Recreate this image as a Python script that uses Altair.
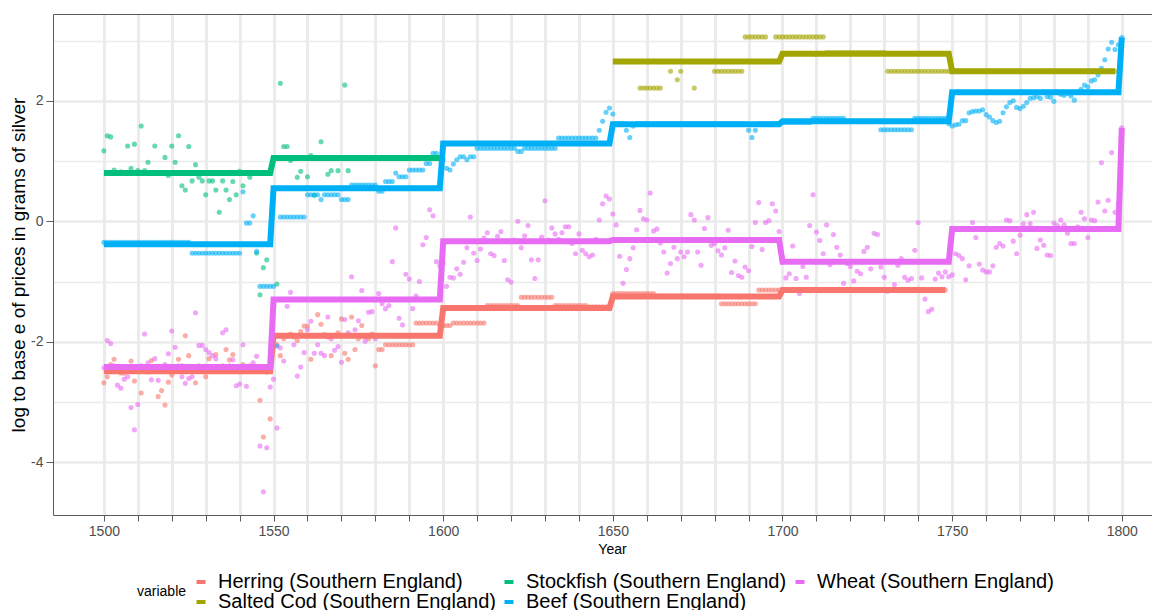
import altair as alt
import pandas as pd

# ---------------- data ----------------
SERIES = [
    "Herring (Southern England)",
    "Salted Cod (Southern England)",
    "Stockfish (Southern England)",
    "Beef (Southern England)",
    "Wheat (Southern England)",
]
SERIES_COLORS = ["#F8766D", "#A3A500", "#00BF7D", "#00B0F6", "#E76BF3"]

X_TICKS = list(range(1500, 1801, 10))
Y_TICKS = [-4, -3, -2, -1, 0, 1, 2, 3]

# yearly points (None = no observation)
herring_start = 1500
herring_vals = [
    -2.68, -2.58, -2.38, -2.29, -2.45, -2.52, -2.52, -2.46, -2.32, -2.65,
    -2.48, -2.85, -2.44, -2.50, -2.31, -2.47, -2.91, -2.81, -3.05, -2.67,
    -2.55, -2.44, -2.29, -2.40, -1.90, -2.23, -2.47, -2.68, -2.40, -2.45,
    -2.58, -2.28, -2.42, -2.21, -2.46, -2.40, -2.13, -2.30, -2.21, -2.44,
    -2.47, -2.38, -2.45, -2.40, -2.43, -2.46, -2.97, -3.58, -2.50, -3.28,
    -1.95, -2.05, -2.23, -1.95, -1.90, -1.87, -1.92, -1.98, -1.83, -1.74,
    -1.74, -2.29, -1.90, -1.55, -1.71, -1.88, -1.92, -2.23, -1.90, -1.85,
    -1.62, -2.19, -2.29, -1.59, -2.13, -1.95, -1.73, -1.91, -1.95, -1.87,
    -2.40, -2.13, -2.13, -2.05, -2.05, -2.05, -2.05, -2.05, -2.05, -2.05,
    -2.05, -2.05, -1.69, -1.69, -1.69, -1.69, -1.69, -1.69, -1.69, -1.73,
    -1.73, -1.73, -1.73, -1.69, -1.69, -1.69, -1.69, -1.69, -1.69, -1.69,
    -1.69, -1.69, -1.69, -1.40, -1.40, -1.40, -1.40, -1.40, -1.40, -1.40,
    -1.40, -1.40, -1.40, -1.26, -1.26, -1.26, -1.26, -1.26, -1.26, -1.26,
    -1.26, -1.26, -1.26, -1.40, -1.40, -1.40, -1.40, -1.40, -1.40, -1.40,
    -1.40, -1.40, -1.40, -1.42, -1.42, -1.42, -1.42, -1.42, -1.42, -1.42,
    -1.20, -1.20, -1.20, -1.20, -1.20, -1.20, -1.20, -1.20, -1.20, -1.20,
    -1.20, -1.20, -1.20, -1.24, -1.24, -1.24, -1.24, -1.24, -1.24, -1.24,
    -1.24, -1.24, -1.24, -1.24, -1.24, -1.24, -1.24, -1.24, -1.24, -1.24,
    -1.24, -1.24, -1.37, -1.37, -1.37, -1.37, -1.37, -1.37, -1.37, -1.37,
    -1.37, -1.37, -1.37, -1.14, -1.14, -1.14, -1.14, -1.14, -1.14, -1.14,
    -1.14, -1.14, -1.14, -1.14, -1.14, -1.14, -1.14, -1.14, -1.14, -1.14,
    -1.14, -1.14, -1.14, -1.14, -1.14, -1.14, -1.14, -1.14, -1.14, -1.14,
    -1.14, -1.14, -1.14, -1.14, -1.14, -1.14, -1.14, -1.14, -1.14, -1.14,
    -1.14, -1.14, -1.14, -1.14, -1.14, -1.14, -1.14, -1.14, -1.14, -1.14,
    -1.14, -1.14, -1.14, -1.14, -1.14, -1.14, -1.14, -1.14, -1.14,
]

cod_start = 1650
cod_vals = [
    None, None, None, None, None, None, None, None, 2.21, 2.21,
    2.21, 2.21, 2.21, 2.21, 2.21, None, None, 2.49, None, 2.35,
    2.49, None, None, None, 2.21, None, None, None, None, None,
    2.49, 2.49, 2.49, 2.49, 2.49, 2.49, 2.49, 2.49, 2.49, 3.06,
    3.06, 3.06, 3.06, 3.06, 3.06, 3.06, None, None, 3.06, 3.06,
    3.06, 3.06, 3.06, 3.06, 3.06, 3.06, 3.06, 3.06, 3.06, 3.06,
    3.06, 3.06, 3.06, 2.80, 2.80, 2.80, 2.80, 2.80, 2.80, 2.80,
    2.80, 2.80, 2.80, 2.80, 2.80, 2.80, 2.80, 2.80, 2.80, 2.80,
    2.80, 2.49, 2.49, 2.49, 2.49, 2.49, 2.49, 2.49, 2.49, 2.49,
    2.49, 2.49, 2.49, 2.49, 2.49, 2.49, 2.49, 2.49, 2.49, 2.49,
    2.49, 2.49, 2.49, 2.49, 2.49, 2.49, 2.49, 2.49, 2.49, 2.49,
    2.49, 2.49, 2.49, 2.49, 2.49, 2.49, 2.49, 2.49, 2.49, 2.49,
    2.49, 2.49, 2.49, 2.49, 2.49, 2.49, 2.49, 2.49, 2.49, 2.49,
    2.49, 2.49, 2.49, 2.49, 2.49, 2.49, 2.49, 2.49, 2.49, 2.49,
    2.49, 2.49, 2.49, 2.49, 2.49, 2.49, 2.49, 2.49, 2.49,
]

stockfish_start = 1500
stockfish_vals = [
    1.17, 1.42, 1.40, 0.85, None, 0.82, None, 1.25, 0.88, 1.28,
    0.84, 1.58, 0.84, 0.98, None, 1.25, 0.80, None, 1.06, 0.76,
    1.25, 0.98, 1.42, 0.59, 0.52, 1.24, 0.67, 0.94, 0.73, 0.67,
    0.44, 0.67, 0.67, 0.52, 0.15, 0.67, 0.52, 0.36, 0.66, 0.44,
    0.83, 0.59, None, 0.73, None, -0.53, -1.22, -0.77, -0.64, None,
    None, -1.04, 2.29, 1.24, 1.24, 1.01, None, 0.73, 0.83, None,
    0.74, 1.09, 0.43, None, 1.32, None, 0.78, 0.84, None, 0.84,
    None, 2.26, 0.84,
]

beef_start = 1500
beef_vals = [
    -0.35, -0.35, -0.35, -0.35, -0.35, -0.35, -0.35, -0.35, -0.35, -0.35,
    -0.35, -0.35, -0.35, -0.35, -0.35, -0.35, -0.35, -0.35, -0.35, -0.35,
    -0.35, -0.35, -0.35, -0.35, -0.35, -0.35, -0.53, -0.53, -0.53, -0.53,
    -0.53, -0.53, -0.53, -0.53, -0.53, -0.53, -0.53, -0.53, -0.53, -0.53,
    -0.53, 0.49, -0.03, -0.03, 0.09, -0.50, -1.08, -1.08, -1.08, -1.08,
    -1.08, -2.07, 0.07, 0.07, 0.07, 0.07, 0.07, 0.07, 0.07, 0.07,
    0.44, 0.44, 0.44, 0.44, 0.36, 0.44, 0.44, 0.44, 0.44, 0.44,
    0.36, 0.36, 0.36, 0.60, 0.60, 0.60, 0.60, 0.60, 0.60, 0.60,
    0.60, 0.50, 0.50, 0.66, 0.66, 0.66, 0.80, 0.74, 0.74, 0.74,
    0.85, 0.85, 0.85, 0.85, 0.85, 0.96, 0.96, 1.13, 1.13, 1.05,
    1.02, 0.88, 0.85, 0.95, 1.02, 1.07, 1.07, 1.02, 1.07, 1.07,
    1.21, 1.21, 1.21, 1.21, 1.21, 1.21, 1.21, 1.21, 1.21, 1.21,
    1.21, 1.21, 1.16, 1.16, 1.21, 1.21, 1.21, 1.21, 1.21, 1.21,
    1.21, 1.21, 1.21, 1.21, 1.38, 1.38, 1.38, 1.38, 1.38, 1.38,
    1.38, 1.38, 1.38, 1.38, 1.38, 1.38, 1.51, 1.66, 1.81, 1.88,
    1.78, 1.62, 1.62, 1.62, 1.51, 1.39, 1.58, 1.62, 1.62, 1.62,
    1.62, 1.62, 1.62, 1.62, 1.62, 1.62, 1.62, 1.62, 1.62, 1.62,
    1.62, 1.62, 1.62, 1.62, 1.62, 1.62, 1.62, 1.62, 1.62, 1.62,
    1.62, 1.62, 1.62, 1.62, 1.62, 1.62, 1.62, 1.62, 1.62, 1.62,
    1.51, 1.39, 1.51, 1.62, 1.62, 1.62, 1.62, 1.62, 1.62, 1.62,
    1.64, 1.64, 1.64, 1.64, 1.64, 1.64, 1.64, 1.64, 1.64, 1.71,
    1.71, 1.71, 1.71, 1.71, 1.71, 1.71, 1.71, 1.71, 1.71, 1.66,
    1.66, 1.66, 1.66, 1.66, 1.66, 1.66, 1.66, 1.66, 1.66, 1.52,
    1.52, 1.52, 1.52, 1.52, 1.52, 1.52, 1.52, 1.52, 1.52, 1.71,
    1.71, 1.71, 1.71, 1.71, 1.71, 1.71, 1.71, 1.71, 1.71, 1.62,
    1.58, 1.60, 1.61, 1.67, 1.67, 1.80, 1.82, 1.83, 1.83, 1.85,
    1.77, 1.73, 1.67, 1.64, 1.66, 1.80, 1.90, 1.97, 2.00, 1.89,
    1.87, 1.91, 1.97, 2.04, 2.05, 2.07, 2.04, 2.15, 2.07, 2.06,
    1.99, 2.15, 2.11, 2.09, 2.12, 2.08, 2.01, 2.15, 2.19, 2.26,
    2.23, 2.33, 2.35, 2.43, 2.54, 2.68, 2.86, 2.97, 2.85, 2.93,
    3.05,
]

wheat_start = 1500
wheat_vals = [
    -2.43, -1.98, -2.03, -2.40, -2.72, -2.77, -2.62, -2.58, -3.09, -3.46,
    -3.04, -2.40, -1.87, -2.35, -2.63, -2.28, -2.64, -2.42, -2.38, -2.20,
    -1.82, -2.09, -2.40, -2.58, -2.69, -2.61, -2.58, -1.52, -2.06, -2.06,
    -2.13, -2.18, -2.23, -2.28, -2.45, -1.85, -1.80, -2.40, -2.30, -2.73,
    -2.70, -2.05, -2.74, -2.45, -2.35, -2.24, -3.73, -4.49, -3.76, -2.75,
    -2.62, -3.43, -2.10, -2.32, -1.41, -1.18, -2.05, -2.57, -2.42, -2.18,
    -1.80, -1.66, -2.19, -2.05, -2.19, -2.23, -1.59, -1.95, -2.14, -2.08,
    -2.34, -1.63, -1.85, -0.92, -1.80, -1.65, -1.15, -1.99, -1.51, -1.50,
    -1.95, -1.20, -1.37, -1.45, -1.40, -0.67, -0.11, -1.61, -1.72, -0.88,
    -0.96, -1.45, -1.24, -1.00, -0.39, -0.27, 0.19, 0.09, -0.67, -0.74,
    -0.70, -1.08, -0.93, -0.94, -0.79, -0.88, -0.68, -0.44, 0.07, -0.53,
    -0.65, -0.46, -0.28, -0.19, -0.54, -0.57, -0.25, -0.17, -0.65, -0.97,
    -1.01, -0.31, 0.00, -0.44, -0.24, -0.07, -0.64, -0.95, -0.64, -0.26,
    0.34, -0.31, -0.11, -0.21, -0.30, -0.19, -0.09, -0.09, -0.37, -0.54,
    -0.21, -0.48, -0.54, -0.59, -0.56, -0.30, 0.02, 0.29, 0.42, 0.37,
    0.12, -0.06, -0.58, -1.03, -0.80, -0.62, -0.44, -0.14, 0.18, 0.04,
    0.02, 0.47, -0.16, -0.13, -0.36, -0.51, -0.86, -0.70, -0.43, -0.62,
    -0.51, -0.59, -0.51, 0.11, 0.02, -0.51, -0.73, -0.12, 0.06, -0.40,
    -0.37, -0.49, -0.56, -0.44, -0.15, -0.85, -0.66, -0.90, -0.93, -0.76,
    -0.82, -0.42, -0.02, 0.31, -0.47, -0.02, 0.01, 0.29, 0.17, -0.17,
    -0.60, -0.94, -0.87, -0.41, -0.95, -1.20, -0.75, -0.93, -0.07, 0.44,
    -0.18, -0.32, -0.54, -0.06, -0.72, -0.22, -0.43, -0.56, -1.03, -0.70,
    -0.75, -0.99, -0.83, -0.87, -0.50, -0.43, -0.79, -0.20, -0.22, -0.76,
    -0.93, -1.16, -1.14, -1.05, -0.73, -0.62, -0.93, -0.98, -0.95, -0.48,
    -0.02, -0.94, -1.29, -1.50, -1.46, -0.96, -0.86, -0.92, -0.84, -0.92,
    -0.89, -0.54, -0.57, -0.62, -0.97, -0.74, -0.02, -0.27, -0.71, -0.81,
    -0.84, -0.84, -0.74, -0.43, -0.37, -0.41, 0.02, 0.01, -0.33, -0.54,
    -0.23, -0.04, 0.11, -0.04, 0.15, -0.45, -0.31, -0.40, -0.56, -0.57,
    -0.03, -0.07, 0.02, -0.06, -0.20, -0.37, -0.37, -0.09, 0.15, 0.04,
    -0.27, 0.02, 0.01, 0.32, 0.97, 0.17, 0.35, 1.14, 0.15, 0.30,
    1.55,
]

# period means (step lines): (first year, last year) and level
herring_periods = [(1500, 1549), (1550, 1599), (1600, 1649), (1650, 1699), (1700, 1748)]
herring_levels = [-2.49, -1.90, -1.44, -1.25, -1.14]
cod_periods = [(1650, 1699), (1700, 1749), (1750, 1798)]
cod_levels = [2.65, 2.78, 2.49]
stockfish_periods = [(1500, 1549), (1550, 1599)]
stockfish_levels = [0.80, 1.05]
beef_periods = [(1500, 1549), (1550, 1599), (1600, 1649), (1650, 1699), (1700, 1749), (1750, 1799), (1800, 1800)]
beef_levels = [-0.38, 0.55, 1.29, 1.61, 1.66, 2.14, 3.05]
wheat_periods = [(1500, 1549), (1550, 1599), (1600, 1649), (1650, 1699), (1700, 1749), (1750, 1799), (1800, 1800)]
wheat_levels = [-2.42, -1.30, -0.33, -0.31, -0.67, -0.13, 1.55]

# ---------------- tables ----------------
def point_rows(name, start, vals):
    return [{"Year": start + i, "value": v, "variable": name}
            for i, v in enumerate(vals) if v is not None]


def step_rows(name, periods, levels):
    rows = []
    for (a, b), m in zip(periods, levels):
        rows.append({"Year": a, "value": m, "variable": name})
        if b != a:
            rows.append({"Year": b, "value": m, "variable": name})
    return rows


points = pd.DataFrame(
    point_rows(SERIES[0], herring_start, herring_vals)
    + point_rows(SERIES[1], cod_start, cod_vals)
    + point_rows(SERIES[2], stockfish_start, stockfish_vals)
    + point_rows(SERIES[3], beef_start, beef_vals)
    + point_rows(SERIES[4], wheat_start, wheat_vals)
)
steps = pd.DataFrame(
    step_rows(SERIES[0], herring_periods, herring_levels)
    + step_rows(SERIES[1], cod_periods, cod_levels)
    + step_rows(SERIES[2], stockfish_periods, stockfish_levels)
    + step_rows(SERIES[3], beef_periods, beef_levels)
    + step_rows(SERIES[4], wheat_periods, wheat_levels)
)

# ---------------- chart ----------------
FONT = "Liberation Sans"
PLOT_W, PLOT_H = 1099, 501
x_scale = alt.Scale(domain=[1485, 1485 + PLOT_W / 3.393], nice=False, zero=False)
y_scale = alt.Scale(domain=[-4.875, 3.44], nice=False, zero=False)
color_scale = alt.Scale(domain=SERIES, range=SERIES_COLORS)

AX_DARK = "#5a5a5a"
GRID = "#EBEBEB"

y_enc = alt.Y(
    "value:Q",
    scale=y_scale,
    axis=alt.Axis(
        values=Y_TICKS,
        labelExpr="datum.value % 2 === 0 ? toString(datum.value) : ''",
        title="log to base e of prices in grams of silver",
        titleFontSize=19,
        titleFontWeight="normal",
        titleColor="black",
        titleX=-25,
        titleY=PLOT_H / 2,
        titleBaseline="bottom",
        labelFontSize=14,
        labelColor="#4D4D4D",
        labelPadding=3,
        labelFlush=False,
        labelOverlap=False,
        tickSize=7,
        tickColor=AX_DARK,
        tickOpacity={"condition": {"test": "datum.value % 2 === 0", "value": 1}, "value": 0},
        domainColor=AX_DARK,
        gridColor=GRID,
        gridWidth={"condition": {"test": "datum.value % 2 === 0", "value": 2.7}, "value": 1.6},
    ),
)

x_bottom = alt.X(
    "Year:Q",
    scale=x_scale,
    axis=alt.Axis(
        values=X_TICKS,
        labelExpr="datum.value % 50 === 0 ? toString(datum.value) : ''",
        title="Year",
        titleFontSize=14,
        titleFontWeight="normal",
        titleColor="black",
        titleX=559,
        titleY=38,
        titleBaseline="alphabetic",
        labelFontSize=14,
        labelColor="#4D4D4D",
        labelPadding=3,
        labelFlush=False,
        labelOverlap=False,
        tickSize=6,
        tickColor=AX_DARK,
        domainColor=AX_DARK,
        gridColor=GRID,
        gridWidth=3,
    ),
)

x_top = alt.X(
    "Year:Q",
    scale=x_scale,
    axis=alt.Axis(orient="top", labels=False, ticks=False, grid=False, title=None,
                  domainColor=AX_DARK),
)

point_layer = alt.Chart(points).mark_circle(size=26, opacity=0.6).encode(
    x=x_bottom,
    y=y_enc,
    color=alt.Color("variable:N", scale=color_scale, legend=None),
)

line_layer = alt.Chart(steps).mark_line(strokeWidth=6).encode(
    x=x_top,
    y=y_enc,
    color=alt.Color(
        "variable:N",
        scale=color_scale,
        legend=alt.Legend(
            title="variable",
            orient="none",
            legendX=84,
            legendY=558,
            direction="vertical",
            columns=3,
            titleOrient="left",
            titleAnchor="middle",
            titleBaseline="middle",
            titleFontSize=14,
            titleFontWeight="normal",
            titleColor="black",
            titlePadding=4,
            labelFontSize=20,
            labelColor="black",
            labelLimit=0,
            labelOffset=7,
            symbolType="stroke",
            symbolStrokeWidth=4,
            symbolSize=81,
            rowPadding=-1,
            columnPadding=0,
        ),
    ),
    detail="variable:N",
)

chart = (
    alt.layer(point_layer, line_layer)
    .resolve_axis(x="independent")
    .resolve_legend(color="independent")
    .properties(
        width=PLOT_W,
        height=PLOT_H,
        autosize=alt.AutoSizeParams(type="none"),
        padding={"left": 45, "top": 6, "right": 0, "bottom": 95},
    )
    .configure(font=FONT)
    .configure_view(stroke=None)
)

chart.save("out.html", embed_options={"renderer": "svg", "actions": False})
